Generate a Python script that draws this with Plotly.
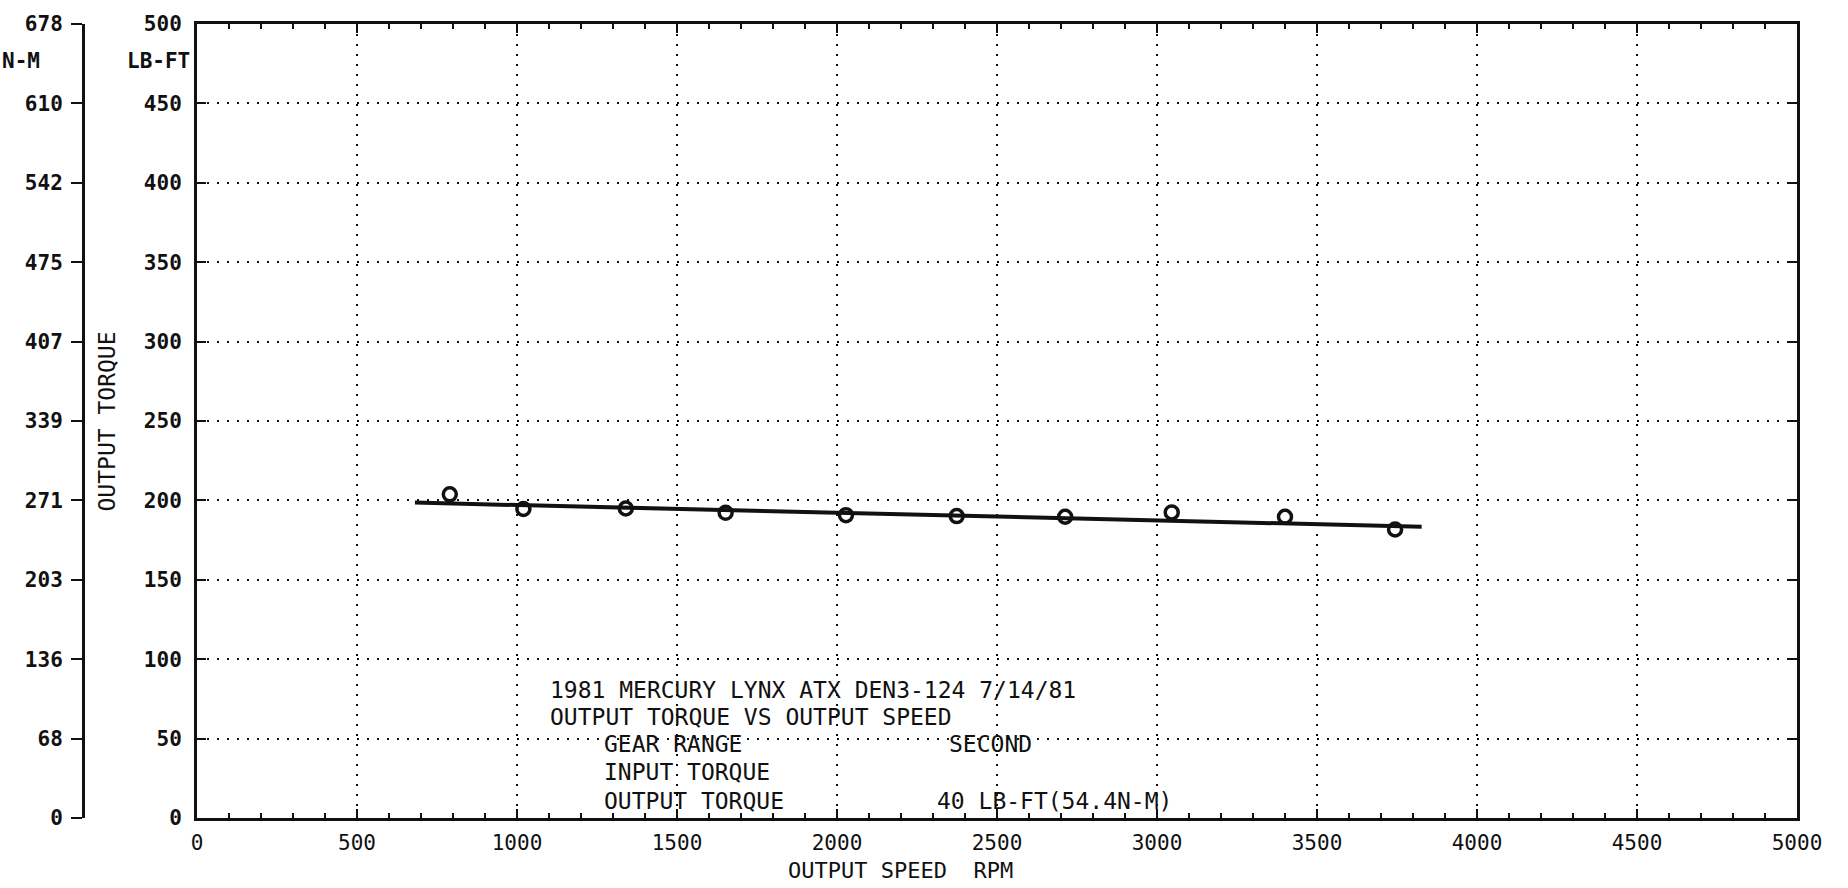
import plotly.graph_objects as go

# ---- data ----
speed_rpm = [790, 1020, 1340, 1652, 2028, 2374, 2713, 3046, 3400, 3744]
torque_lbft = [203.8, 194.6, 194.9, 192.2, 190.7, 190.1, 189.7, 192.4, 189.7, 181.7]

fit_speed = [681, 3827]
fit_torque = [198.6, 183.4]

lbft_ticks = [0, 50, 100, 150, 200, 250, 300, 350, 400, 450, 500]
nm_labels = ["0", "68", "136", "203", "271", "339", "407", "475", "542", "610", "678"]
nm_max = 678

info_lines = [
    ("1981 MERCURY LYNX ATX DEN3-124 7/14/81", 1097, 80.9),
    ("OUTPUT TORQUE VS OUTPUT SPEED", 1097, 63.4),
    ("GEAR RANGE", 1266, 46.4),
    ("SECOND", 2344, 46.4),
    ("INPUT TORQUE", 1266, 28.9),
    ("OUTPUT TORQUE", 1266, 10.7),
    ("40 LB-FT(54.4N-M)", 2306, 10.7),
]

W, H = 1848, 888
ML, MR, MT, MB = 20, 51, 21, 70
PW = W - ML - MR
PH = H - MT - MB

def px_x(px):
    return (px - ML) / PW

def px_y(py):
    return (H - MB - py) / PH

MONO = "DejaVu Sans Mono"
BLACK = "#111111"

fig = go.Figure()

fig.add_trace(go.Scatter(
    x=fit_speed, y=fit_torque, mode="lines",
    line=dict(color=BLACK, width=4), showlegend=False, hoverinfo="skip"))

fig.add_trace(go.Scatter(
    x=speed_rpm, y=torque_lbft, mode="markers",
    marker=dict(symbol="circle-open", size=13, color=BLACK, line=dict(width=3.5, color=BLACK)),
    showlegend=False))

# invisible trace to carry the N-M axis
fig.add_trace(go.Scatter(x=[None], y=[None], yaxis="y2", showlegend=False, hoverinfo="skip"))

grid = dict(showgrid=True, gridcolor=BLACK, gridwidth=2, griddash="2px,8px")

fig.update_layout(
    width=W, height=H,
    margin=dict(l=ML, r=MR, t=MT, b=MB),
    paper_bgcolor="white", plot_bgcolor="white",
    xaxis=dict(
        domain=[px_x(197), 1], range=[0, 5000], tickvals=list(range(0, 5001, 500)),
        ticks="inside", ticklen=9, tickwidth=2, tickcolor=BLACK,
        minor=dict(dtick=100, ticks="inside", ticklen=5, tickwidth=2, tickcolor=BLACK, showgrid=False),
        showline=True, linewidth=3, linecolor=BLACK, mirror="ticks",
        zeroline=False, tickfont=dict(family=MONO, size=21, color=BLACK),
        ticklabelstandoff=4, **grid),
    yaxis=dict(
        range=[0, 500], tickvals=lbft_ticks,
        ticks="inside", ticklen=9, tickwidth=2, tickcolor=BLACK,
        showline=True, linewidth=3, linecolor=BLACK, mirror="ticks",
        zeroline=False, tickfont=dict(family=MONO, size=21, color=BLACK, weight="bold"),
        ticklabelstandoff=8, **grid),
    yaxis2=dict(
        overlaying="y", anchor="free", position=px_x(83), side="left",
        range=[0, nm_max], tickvals=[v * nm_max / 500 for v in lbft_ticks], ticktext=nm_labels,
        ticks="outside", ticklen=11, tickwidth=2, tickcolor=BLACK,
        showline=True, linewidth=3, linecolor=BLACK, showgrid=False, zeroline=False,
        tickfont=dict(family=MONO, size=21, color=BLACK, weight="bold"),
        ticklabelstandoff=4),
)

ann = []
ann.append(dict(text="N-M", xref="paper", yref="paper", x=px_x(0), y=px_y(58),
                xanchor="left", yanchor="middle", showarrow=False,
                font=dict(family=MONO, size=21, color=BLACK, weight="bold")))
ann.append(dict(text="LB-FT", xref="paper", yref="paper", x=px_x(192), y=px_y(58),
                xanchor="right", yanchor="middle", showarrow=False,
                font=dict(family=MONO, size=21, color=BLACK, weight="bold")))
ann.append(dict(text="OUTPUT TORQUE", xref="paper", yref="paper", x=px_x(107), y=px_y(420),
                xanchor="center", yanchor="middle", textangle=-90, showarrow=False,
                font=dict(family=MONO, size=23, color=BLACK)))
ann.append(dict(text="OUTPUT SPEED\u00a0 RPM", xref="paper", yref="paper", x=px_x(900), y=px_y(871),
                xanchor="center", yanchor="middle", showarrow=False,
                font=dict(family=MONO, size=22, color=BLACK)))
for txt, xv, yv in info_lines:
    ann.append(dict(text=txt, x=xv, y=yv, xref="x", yref="y", xanchor="left", yanchor="middle",
                    showarrow=False, font=dict(family=MONO, size=23, color=BLACK)))
fig.update_layout(annotations=ann)

fig.write_html("out.html", config={"displayModeBar": False},
               post_script="document.body.style.margin='0';document.body.style.overflow='hidden';")
